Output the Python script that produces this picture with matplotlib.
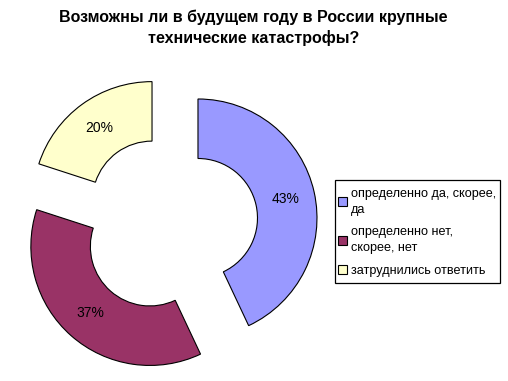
import matplotlib
matplotlib.use("Agg")
import matplotlib.pyplot as plt
from matplotlib.patches import Rectangle

plt.rcParams['font.family'] = ['Liberation Sans', 'DejaVu Sans']

title = "Возможны ли в будущем году в России крупные\nтехнические катастрофы?"
labels = ["определенно да, скорее,\nда", "определенно нет,\nскорее, нет", "затруднились ответить"]
values = [43, 37, 20]
colors = ["#9999FF", "#993366", "#FFFFCC"]

W, H = 508, 381
fig = plt.figure(figsize=(W / 100, H / 100), dpi=100)
ax = fig.add_axes([0, 0, 1, 1])

R = 119.0
cx, cy = 169.3, 224.4
wedges, texts, autotexts = ax.pie(
    values, colors=colors, startangle=90, counterclock=False,
    explode=[0.247] * 3, radius=1.0,
    wedgeprops=dict(width=0.5, edgecolor="black", linewidth=0.8),
    autopct=lambda p: f"{p:.0f}%", pctdistance=0.75,
    textprops=dict(fontsize=10, color="black"))

ax.set_aspect('auto')
ax.set_xlim(-cx / R, (W - cx) / R)
ax.set_ylim(-(H - cy) / R, cy / R)
ax.axis('off')

fig.text(0.5 * (58 + 449) / W, 1 - 28 / H, title, ha='center', va='center',
         fontsize=11.5, fontweight='bold', linespacing=1.4)

# legend frame
x0, y0, x1, y1 = 335, 180, 500, 283
fig.patches.append(Rectangle((x0 / W, 1 - y1 / H), (x1 - x0) / W, (y1 - y0) / H,
                             transform=fig.transFigure, fill=False,
                             edgecolor='black', linewidth=0.9))
leg = fig.legend(wedges, labels, loc='upper left',
                 bbox_to_anchor=(338 / W, 1 - 188 / H), frameon=False,
                 fontsize=9.1, handlelength=0.7, handleheight=0.7,
                 handletextpad=0.35, labelspacing=0.85, borderaxespad=0,
                 borderpad=0)
for t in leg.get_texts():
    t.set_linespacing(1.4)

fig.savefig("out.png", dpi=100)
